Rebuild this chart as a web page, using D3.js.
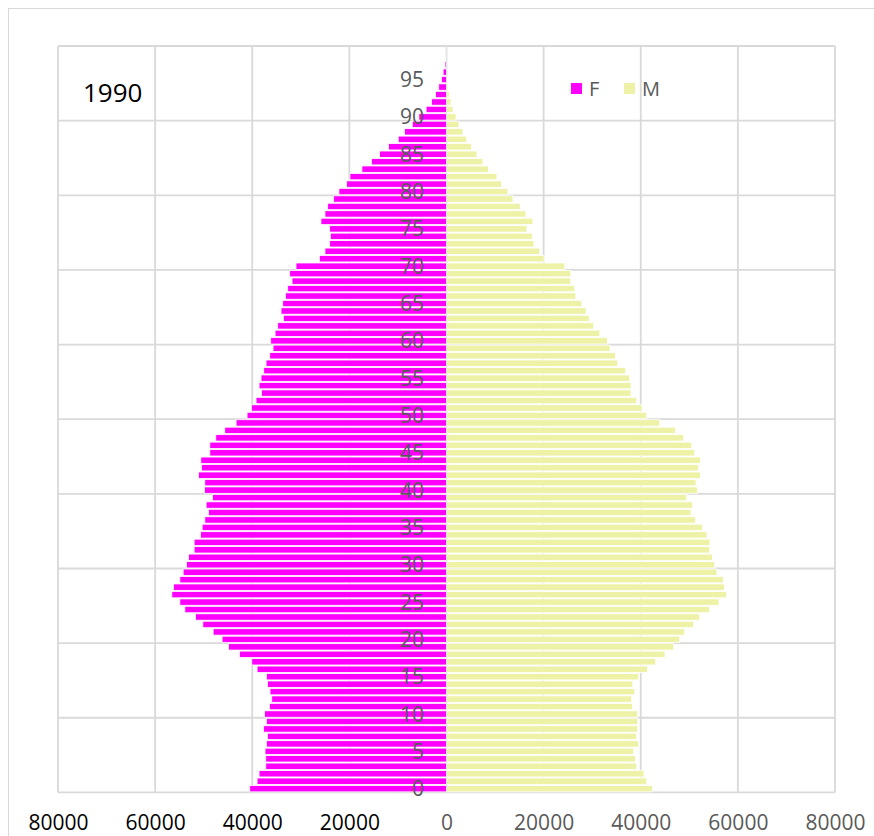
<!DOCTYPE html>
<html>
  <head>
    <meta charset="utf-8">
    <title>1990 pyramid</title>
    <script src="https://cdn.jsdelivr.net/npm/d3@7"></script>
    <style>
      body { margin: 0; background: #fff; }
      text { font-family: "Open Sans", "Liberation Sans", sans-serif; }
    </style>
  </head>
  <body>
    <script>

// chart size
var w = 874;
var h = 836;

// data (ages 0..99)
var ages = d3.range(0, 100);
var female = [
  40520, 39010, 38600, 37220, 37220, 37370, 37090, 36880, 37700, 37090,
  37490, 36470, 35990, 36340, 36880, 37090, 39010, 40100, 42640, 44900,
  46210, 48060, 50180, 51680, 53880, 54910, 56560, 56210, 54910, 54230,
  53530, 53120, 51970, 51970, 50660, 50320, 49770, 49010, 49500, 48190,
  49830, 49770, 51070, 50450, 50590, 48740, 48740, 47510, 45660, 43330,
  41070, 40170, 39220, 38110, 38600, 38190, 37640, 37160, 36400, 35720,
  36200, 35300, 34760, 33590, 34070, 33730, 33180, 32700, 31810, 32290,
  30990, 26180, 25030, 24060, 23920, 24060, 25850, 25030, 24470, 23240,
  22150, 20570, 19890, 17420, 15420, 13780, 11930, 9940, 8640, 7050,
  5700, 4200, 3100, 2250, 1600, 1000, 700, 300, 100, 0
];
var male = [
  42410, 41240, 40680, 39180, 38910, 38560, 39530, 39180, 39380, 39380,
  39380, 38290, 38150, 38770, 38360, 39590, 41440, 43090, 45000, 46790,
  48020, 49050, 50900, 52140, 54130, 56100, 57630, 57210, 57010, 55690,
  55220, 54750, 54190, 54250, 53640, 52750, 51310, 50350, 50700, 49460,
  51720, 51380, 52280, 51930, 52280, 51110, 50490, 48780, 47140, 43910,
  41240, 40270, 39180, 38010, 38010, 37740, 36920, 35270, 34800, 33690,
  33150, 31570, 30330, 29370, 28750, 27870, 26630, 26430, 25600, 25600,
  24370, 20110, 19230, 18000, 17650, 16560, 17790, 16350, 15180, 13680,
  12650, 11350, 10390, 8680, 7510, 6270, 5180, 4150, 3390, 2570,
  1960, 1340, 930, 580, 300, 150, 80, 40, 0, 0
];
var xTicks = [-80000, -60000, -40000, -20000, 0, 20000, 40000, 60000, 80000];
var yLabelAges = [0, 5, 10, 15, 20, 25, 30, 35, 40, 45, 50, 55, 60, 65, 70, 75, 80, 85, 90, 95];
var yGridAges = [0, 10, 20, 30, 40, 50, 60, 70, 80, 90];
var series = ["F", "M"];
var colors = {F: "#ff00ff", M: "#eef2a6"};

var svg = d3.select("body")
  .append("svg")
  .attr("width", w)
  .attr("height", h);

// outer chart border (runs off the right and bottom)
svg.append("rect")
   .attr("x", 8.5).attr("y", 8.5)
   .attr("width", 1000).attr("height", 1000)
   .attr("fill", "#fff")
   .attr("stroke", "#d9d9d9");

// scales
var xScale = d3.scaleLinear()
  .domain([-80000, 80000])
  .range([58, 835]);

var yScale = d3.scaleBand()
  .domain(ages.slice().reverse())
  .range([46, 792.4]);

var step = yScale.step();
function bandBottom(a) { return 46 + (99 - a + 1) * step; }

// grid
var grid = svg.append("g").attr("stroke", "#d9d9d9").attr("stroke-width", 1.8);
grid.selectAll("line.v")
    .data(xTicks)
    .enter()
    .append("line")
    .attr("x1", function(d){ return xScale(d); })
    .attr("x2", function(d){ return xScale(d); })
    .attr("y1", 46)
    .attr("y2", 792.4);
grid.selectAll("line.h")
    .data(yGridAges.concat([100]))
    .enter()
    .append("line")
    .attr("x1", 58)
    .attr("x2", 835)
    .attr("y1", function(d){ return d === 100 ? 46 : bandBottom(d); })
    .attr("y2", function(d){ return d === 100 ? 46 : bandBottom(d); });

// bars
var bw = step * 0.86;
function barY(a) { return yScale(a) + (step - bw) / 2; }

svg.append("g").selectAll("rect")
   .data(ages)
   .enter()
   .append("rect")
   .attr("x", function(d){ return xScale(-female[d]); })
   .attr("y", function(d){ return barY(d); })
   .attr("width", function(d){ return xScale(0) - xScale(-female[d]); })
   .attr("height", bw)
   .attr("fill", colors.F)
   .attr("stroke", "#fff")
   .attr("stroke-width", 0.8);

svg.append("g").selectAll("rect")
   .data(ages)
   .enter()
   .append("rect")
   .attr("x", xScale(0))
   .attr("y", function(d){ return barY(d); })
   .attr("width", function(d){ return xScale(male[d]) - xScale(0); })
   .attr("height", bw)
   .attr("fill", colors.M)
   .attr("stroke", "#fff")
   .attr("stroke-width", 0.8);

// vertical axis line at 0
svg.append("line")
   .attr("x1", xScale(0)).attr("x2", xScale(0))
   .attr("y1", 46).attr("y2", 792.4)
   .attr("stroke", "#e6e6e6")
   .attr("stroke-width", 1);

// age labels, drawn over the bars
svg.append("g").selectAll("text")
   .data(yLabelAges)
   .enter()
   .append("text")
   .attr("x", 424)
   .attr("y", function(d){ return barY(d) + bw / 2; })
   .attr("dy", "0.36em")
   .attr("text-anchor", "end")
   .attr("font-size", "21px")
   .attr("fill", "#595959")
   .text(function(d){ return d; });

// x axis
var xAxis = d3.axisBottom(xScale)
  .tickValues(xTicks)
  .tickSize(0)
  .tickFormat(function(d){ return Math.abs(d); });

var gx = svg.append("g")
   .attr("transform", "translate(0,815)")
   .call(xAxis);
gx.select(".domain").remove();
gx.selectAll("text")
  .attr("font-family", "Open Sans, Liberation Sans, sans-serif")
  .attr("font-size", "21px")
  .attr("dy", "0.72em")
  .attr("y", 0)
  .attr("fill", function(d){ return d < 0 ? "#000" : "#595959"; });

// title
svg.append("text")
   .attr("x", 83)
   .attr("y", 101.5)
   .attr("font-size", "26px")
   .attr("fill", "#000")
   .text("1990");

// legend
var legend = svg.append("g").selectAll("g")
  .data(series)
  .enter()
  .append("g")
  .attr("transform", function(d, i){ return "translate(" + (571 + i * 53) + ",83)"; });
legend.append("rect")
  .attr("width", 11).attr("height", 11)
  .attr("fill", function(d){ return colors[d]; });
legend.append("text")
  .attr("x", 18)
  .attr("y", 12.5)
  .attr("font-size", "20px")
  .attr("fill", "#595959")
  .text(function(d){ return d; });

    </script>
  </body>
</html>
